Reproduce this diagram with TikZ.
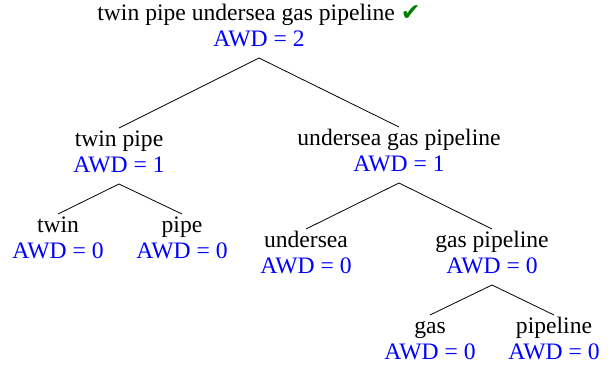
\documentclass[tikz,border=0pt]{standalone}
\usepackage{fontspec}
\setmainfont{Liberation Serif}
\newfontfamily\symfont{DejaVu Sans}
\definecolor{awdblue}{RGB}{0,0,255}
\definecolor{checkgreen}{RGB}{0,128,0}
\newcommand{\toprow}[1]{\rule{0pt}{18pt}#1}
\newcommand{\awd}[1]{\textcolor{awdblue}{AWD = #1}\rule[-12pt]{0pt}{12pt}}
\begin{document}
\begin{tikzpicture}[x=1pt,y=-1pt,
  treenode/.style={anchor=north,align=center,inner sep=0pt,outer sep=0pt,
    font=\fontsize{23.6}{26}\selectfont},
  edge/.style={draw=black,line width=0.8pt}]
\useasboundingbox (0,0) rectangle (613,367);
\node[treenode] (root) at (259,2) {\toprow{twin pipe undersea gas pipeline {\symfont\textcolor{checkgreen}{✔}}}\\\awd{2}};
\node[treenode] (tp) at (119,128) {\toprow{twin pipe}\\\awd{1}};
\node[treenode] (ugp) at (399,127) {\toprow{undersea gas pipeline}\\\awd{1}};
\node[treenode] (twin) at (58,214) {\toprow{twin}\\\awd{0}};
\node[treenode] (pipe) at (182,214) {\toprow{pipe}\\\awd{0}};
\node[treenode] (us) at (306,229) {\toprow{undersea}\\\awd{0}};
\node[treenode] (gp) at (492,229) {\toprow{gas pipeline}\\\awd{0}};
\node[treenode] (gas) at (430,315) {\toprow{gas}\\\awd{0}};
\node[treenode] (pl) at (554,315) {\toprow{pipeline}\\\awd{0}};
\draw[edge] (tp.north) -- (root.south) -- (ugp.north);
\draw[edge] (twin.north) -- (tp.south) -- (pipe.north);
\draw[edge] (us.north) -- (ugp.south) -- (gp.north);
\draw[edge] (gas.north) -- (gp.south) -- (pl.north);
\end{tikzpicture}
\end{document}
